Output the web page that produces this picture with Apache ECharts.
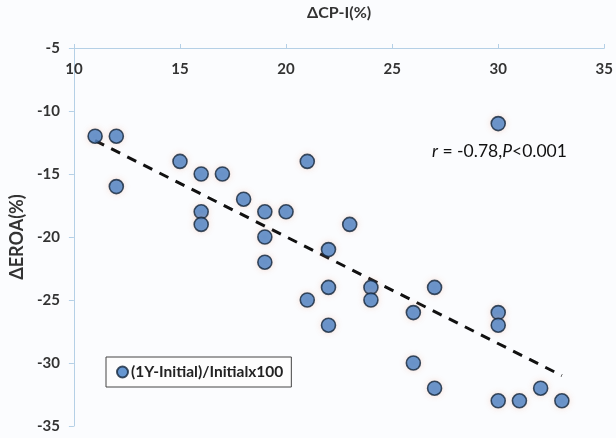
<!DOCTYPE html>
<html>
<head>
<meta charset="utf-8">
<script src="https://cdn.jsdelivr.net/npm/echarts@6/dist/echarts.min.js"></script>
<style>
  html, body { margin: 0; padding: 0; background: #fbfcfe; }
  #chart { width: 616px; height: 438px; }
</style>
</head>
<body>
<div id="chart"></div>
<script>
// ΔCP-I (%) vs ΔEROA (%)
var cpI = [11, 12, 12, 15, 16, 17, 16, 16, 18, 19, 20, 19, 19, 21, 21, 22,
  22, 22, 23, 24, 24, 26, 26, 27, 27, 30, 30, 30, 30, 31, 32, 33];
var eroa = [-12, -12, -16, -14, -15, -15, -18, -19, -17, -18, -18, -20, -22, -14, -25, -21,
  -24, -27, -19, -24, -25, -26, -30, -24, -32, -11, -26, -27, -33, -33, -32, -33];
var trendX = [11, 33];
var trendY = [-12.35, -31];
var seriesName = "(1Y-Initial)/Initialx100";

(function () {
  var font = "Lato";
  var axisColor = "#b5d0e6";
  var points = cpI.map(function (x, i) { return [x, eroa[i]]; });
  var trend = trendX.map(function (x, i) { return [x, trendY[i]]; });

  var option = {
    backgroundColor: "#fbfcfe",
    animation: false,
    textStyle: { fontFamily: font },
    grid: { left: 72, right: 11, top: 45, bottom: 12 },
    xAxis: {
      type: "value",
      position: "top",
      min: 10,
      max: 35,
      interval: 5,
      name: "ΔCP-I(%)",
      nameLocation: "middle",
      nameGap: 27,
      nameTextStyle: { color: "#333", fontSize: 16, fontWeight: "bold", fontFamily: font },
      axisLine: { show: true, lineStyle: { color: axisColor, width: 1 } },
      axisTick: { show: true, length: 4, lineStyle: { color: axisColor } },
      axisLabel: {
        inside: true,
        margin: 14,
        color: "#333",
        fontSize: 15,
        fontWeight: "bold",
        fontFamily: font,
      },
      splitLine: { show: false },
    },
    yAxis: {
      type: "value",
      min: -35,
      max: -5,
      interval: 5,
      name: "ΔEROA(%)",
      nameLocation: "middle",
      nameGap: 42,
      nameRotate: 90,
      nameTextStyle: { color: "#333", fontSize: 18, fontWeight: "bold", fontFamily: font },
      axisLine: { show: true, lineStyle: { color: axisColor, width: 1 } },
      axisTick: { show: true, length: 5, lineStyle: { color: axisColor } },
      axisLabel: {
        margin: 14,
        color: "#333",
        fontSize: 15,
        fontWeight: "bold",
        fontFamily: font,
      },
      splitLine: { show: false },
    },
    legend: {
      data: [{ name: seriesName, icon: "circle" }],
      left: 106,
      top: 357,
      itemWidth: 11,
      itemHeight: 11,
      itemGap: 4,
      padding: [7, 8, 7, 10],
      borderColor: "#444",
      borderWidth: 1,
      backgroundColor: "#fdfdfd",
      textStyle: { color: "#222", fontSize: 15.5, fontWeight: "bold", fontFamily: font, padding: [0, 0, 0, -2] },
    },
    graphic: [
      {
        type: "text",
        left: 432,
        top: 142,
        style: {
          text: "{i|r} = -0.78,{i|P}<0.001",
          fill: "#111",
          font: "17.5px Lato",
          rich: {
            i: { fontStyle: "italic", fontSize: 17.5, fontFamily: font, fill: "#111" },
          },
        },
      },
    ],
    series: [
      {
        name: "trend",
        type: "line",
        data: trend,
        symbol: "none",
        silent: true,
        z: 3,
        lineStyle: { color: "#111", width: 3, type: [10, 8] },
      },
      {
        name: seriesName,
        type: "scatter",
        data: points,
        symbol: "circle",
        symbolSize: 14,
        z: 4,
        itemStyle: {
          color: "#407dc6",
          borderColor: "#14253a",
          borderWidth: 1.6,
          shadowBlur: 6,
          shadowColor: "rgba(240, 170, 140, 0.35)",
        },
      },
    ],
  };
  var myChart = echarts.init(document.getElementById("chart"));
  myChart.setOption(option);
})();
</script>
</body>
</html>
